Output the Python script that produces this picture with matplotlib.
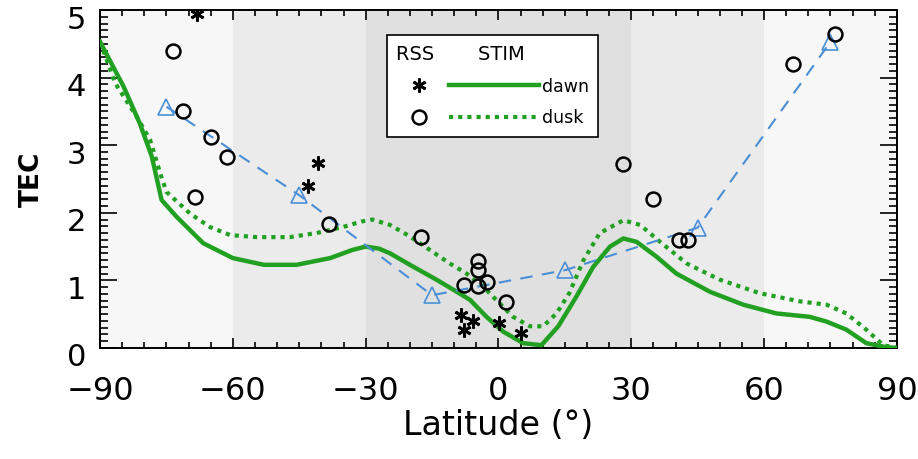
import numpy as np
import matplotlib.pyplot as plt
from matplotlib.lines import Line2D
from matplotlib.legend_handler import HandlerBase
from matplotlib.ticker import MultipleLocator
from matplotlib.transforms import ScaledTranslation

# background latitude bands
band_edges = [-90, -60, -30, 30, 60, 90]
band_colors = ['#f7f7f7', '#ebebeb', '#e0e0e0', '#ebebeb', '#f7f7f7']

# STIM model, dawn (solid)
dawn_lat = [-90, -84.7, -81, -78.3, -76.1, -72.7, -66.7, -60, -53, -45.6, -38, -33, -30, -27,
            -24.5, -19.2, -14, -9.4, -6.4, -2.7, 1.1, 5.6, 9.7, 13.5, 17.6, 21.4, 25.2, 28.2,
            31.2, 35.7, 40.2, 47.8, 55.3, 62.8, 70.3, 74.1, 78.6, 83.1, 87.6, 90]
dawn_tec = [4.53, 3.87, 3.32, 2.83, 2.19, 1.94, 1.55, 1.33, 1.23, 1.23, 1.33, 1.45, 1.50, 1.47,
            1.40, 1.20, 1.01, 0.83, 0.71, 0.46, 0.24, 0.07, 0.04, 0.32, 0.76, 1.20, 1.50, 1.62,
            1.57, 1.35, 1.10, 0.83, 0.64, 0.51, 0.46, 0.39, 0.27, 0.07, 0.01, 0.0]

# STIM model, dusk (dotted)
dusk_lat = [-90, -86.6, -81.7, -78.7, -76.4, -75, -69.7, -65.2, -60.6, -54.6, -47.1, -41.1,
            -35.1, -31, -28.5, -24.5, -20, -15.5, -11, -7.2, -3.5, -0.5, 3.3, 7.1, 10.1, 13.1,
            16, 19.2, 22.9, 28.2, 32, 36.5, 42.5, 50, 59, 68, 74.1, 78.6, 83.1, 86.9, 90]
dusk_tec = [4.53, 3.92, 3.42, 3.08, 2.58, 2.31, 1.99, 1.79, 1.67, 1.64, 1.64, 1.70,
            1.79, 1.87, 1.90, 1.82, 1.65, 1.45, 1.25, 1.10, 0.91, 0.71, 0.46, 0.32, 0.32, 0.51,
            0.81, 1.30, 1.70, 1.89, 1.82, 1.57, 1.25, 1.01, 0.81, 0.69, 0.64, 0.51, 0.27, 0.04, 0.0]

# zonal mean (triangles, dashed)
tri_lat = [-75, -45, -15, 15, 45, 75]
tri_tec = [3.57, 2.26, 0.78, 1.15, 1.78, 4.53]

# RSS dawn (asterisks)
rss_dawn_lat = [-68.2, -40.7, -43.0, -8.5, -7.7, -5.7, 0.2, 5.1]
rss_dawn_tec = [4.94, 2.73, 2.39, 0.49, 0.27, 0.40, 0.37, 0.22]

# RSS dusk (circles)
rss_dusk_lat = [-73.6, -71.2, -65.0, -61.4, -68.5, -38.2, -17.4, -4.6, -4.6, -7.8, -4.6, -2.7,
                1.8, 28.2, 34.8, 40.8, 42.9, 66.6, 76.0]
rss_dusk_tec = [4.40, 3.51, 3.12, 2.82, 2.24, 1.83, 1.64, 1.29, 1.15, 0.93, 0.92, 0.98,
                0.68, 2.72, 2.21, 1.59, 1.60, 4.20, 4.64]

GREEN = '#22a022'
BLUE = '#4a8fd6'


class RowHandler(HandlerBase):
    # symbol on the left, model line on the right
    def create_artists(self, legend, orig_handle, xdescent, ydescent, width, height, fontsize, trans):
        sym, line = orig_handle
        y = height / 2 - ydescent
        x0 = -xdescent
        m = Line2D([x0 + 0.16 * width], [y])
        m.update_from(sym)
        l = Line2D([x0 + 0.37 * width, x0 + width], [y, y])
        l.update_from(line)
        m.set_transform(trans)
        l.set_transform(trans)
        return [l, m]


fig = plt.figure(figsize=(9.18, 4.59), dpi=100)
ax = fig.add_axes([0.109, 0.242, 0.868, 0.736])

for i, c in enumerate(band_colors):
    ax.axvspan(band_edges[i], band_edges[i + 1], color=c, lw=0, zorder=0)

dawn_ln, = ax.plot(dawn_lat, dawn_tec, '-', color=GREEN, lw=3.2, zorder=3)
dusk_ln, = ax.plot(dusk_lat, dusk_tec, color=GREEN, lw=3.0, ls=(0, (1, 1.2)), zorder=3)
ax.plot(tri_lat, tri_tec, color=BLUE, lw=1.5, ls=(0, (6, 4.5)), marker='^', ms=11,
        mfc='none', mec=BLUE, mew=1.2, zorder=4)
star, = ax.plot(rss_dawn_lat, rss_dawn_tec, ls='none', marker=(6, 2, 0), ms=10,
                color='black', mew=2.0, zorder=5)
circ, = ax.plot(rss_dusk_lat, rss_dusk_tec, ls='none', marker='o', ms=10,
                mfc='none', mec='black', mew=1.8, zorder=5)

ax.set_xlim(-90, 90)
ax.set_ylim(0, 5)
ax.xaxis.set_major_locator(MultipleLocator(30))
ax.xaxis.set_minor_locator(MultipleLocator(5))
ax.yaxis.set_major_locator(MultipleLocator(1))
ax.yaxis.set_minor_locator(MultipleLocator(0.1))
ax.tick_params(axis='both', which='both', direction='in', top=True, right=True,
               color='black', width=1.2)
ax.tick_params(axis='x', which='major', length=7, labelsize=23, pad=20)
ax.tick_params(axis='x', which='minor', length=4)
ax.tick_params(axis='y', which='major', length=12, labelsize=22, pad=10)
ax.tick_params(axis='y', which='minor', length=6)
for s in ax.spines.values():
    s.set_linewidth(1.4)

# y labels sit a little below their ticks in the original
shift = ScaledTranslation(0, -5 / 72, fig.dpi_scale_trans)
for lab in ax.get_yticklabels():
    lab.set_transform(lab.get_transform() + shift)

ax.set_xlabel('Latitude (°)', fontsize=24, labelpad=2)
ax.set_ylabel('TEC', fontsize=19, fontweight='bold', labelpad=16)

leg = ax.legend(handles=[(star, dawn_ln), (circ, dusk_ln)], labels=['dawn', 'dusk'],
                handler_map={tuple: RowHandler()}, title='RSS       STIM',
                title_fontproperties={'size': 14}, fontsize=12.5, alignment='left',
                loc='upper left', bbox_to_anchor=(0.36, 0.926), borderaxespad=0,
                handlelength=8.2, handletextpad=0.17, labelspacing=0.8, borderpad=0.55,
                fancybox=False, framealpha=1, edgecolor='black')
leg.get_frame().set_linewidth(1.2)
leg.set_zorder(10)

fig.savefig('out.png', dpi=100)
